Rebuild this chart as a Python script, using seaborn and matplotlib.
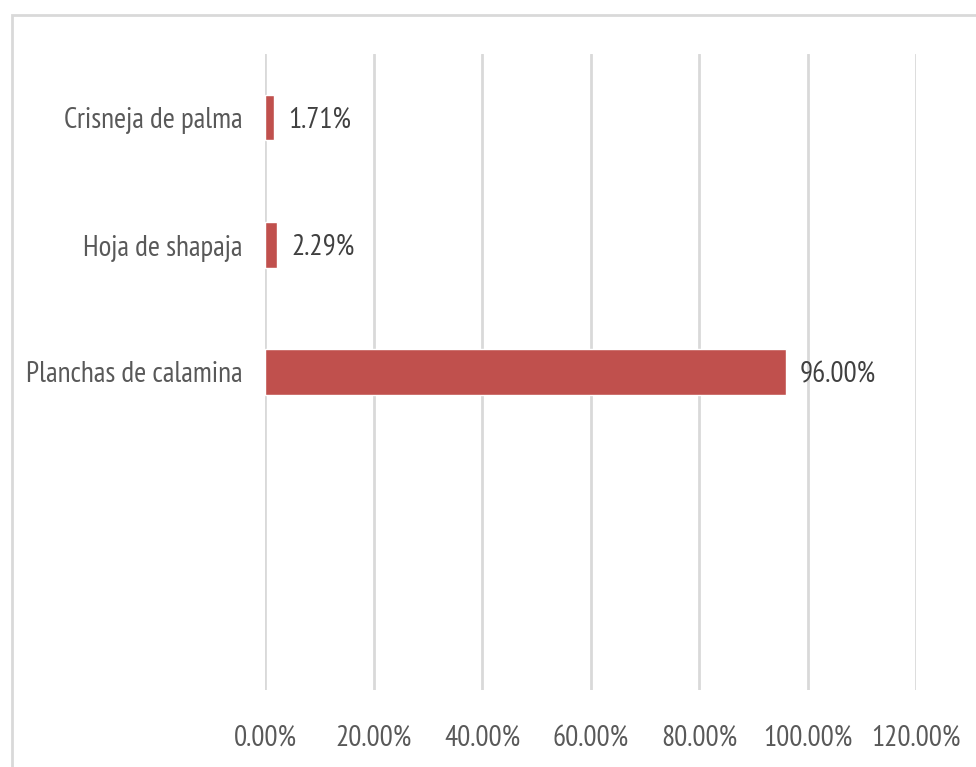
import matplotlib
matplotlib.use("Agg")
import matplotlib.pyplot as plt
from matplotlib.patches import Rectangle
from matplotlib.ticker import FuncFormatter
import seaborn as sns
import pandas as pd

categories = ["Crisneja de palma", "Hoja de shapaja", "Planchas de calamina", "", " "]
values = [1.71, 2.29, 96.00, None, None]
xticks = [0, 20, 40, 60, 80, 100, 120]

sns.set_theme(style="white")
plt.rcParams["font.family"] = ["PT Sans Narrow", "DejaVu Sans"]
plt.rcParams["font.weight"] = "normal"

df = pd.DataFrame({"material": categories, "pct": values})

fig = plt.figure(figsize=(9.76, 7.67), dpi=100)
fig.patch.set_facecolor("white")
# chart-area frame
fig.patches.append(Rectangle((12 / 976, -0.05), 1.2, 1 - 15 / 767 + 0.05,
                             transform=fig.transFigure, fill=False,
                             edgecolor="#d9d9d9", linewidth=2, zorder=0))

ax = fig.add_axes([265 / 976, 1 - 690 / 767, (916 - 265) / 976, (690 - 54) / 767])
sns.barplot(data=df, y="material", x="pct", order=categories, orient="h",
            color="#C0504D", saturation=1, width=0.36, ax=ax)

ax.set_xlim(0, 120)
ax.set_ylim(4.5, -0.5)
ax.set_xticks(xticks)
ax.xaxis.set_major_formatter(FuncFormatter(lambda v, p: f"{v:.2f}%"))
ax.grid(axis="x", color="#d9d9d9", linewidth=2)
ax.grid(axis="y", visible=False)
ax.set_axisbelow(True)
for s in ax.spines.values():
    s.set_visible(False)
ax.set_xlabel("")
ax.set_ylabel("")
ax.tick_params(axis="x", length=0, pad=25, labelsize=21, labelcolor="#595959")
ax.tick_params(axis="y", length=0, pad=16, labelsize=21, labelcolor="#595959")

for i, v in enumerate(values):
    if v is not None:
        ax.text(v + 2.6, i + 0.02, f"{v:.2f}%", va="center", ha="left",
                fontsize=21, color="#404040")

fig.savefig("out.png", dpi=100, facecolor="white")
